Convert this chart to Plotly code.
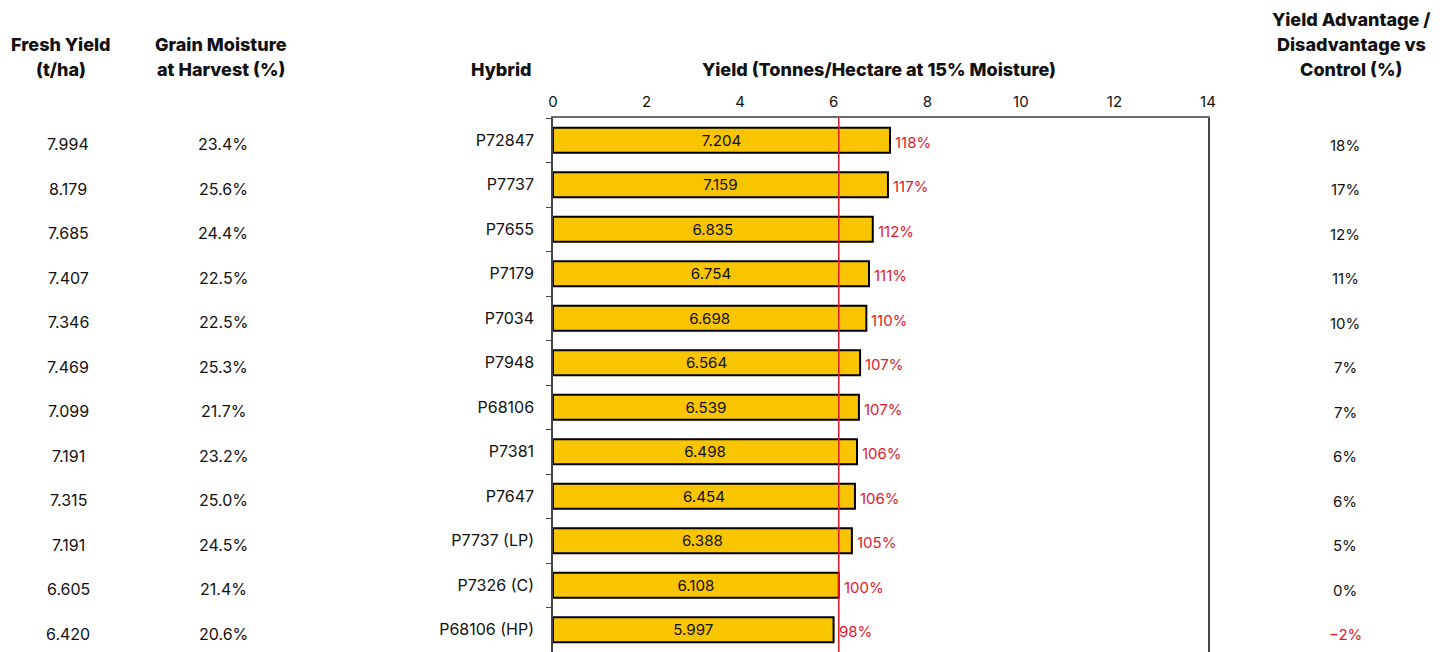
import plotly.graph_objects as go

hybrids = ["P72847", "P7737", "P7655", "P7179", "P7034", "P7948", "P68106",
           "P7381", "P7647", "P7737 (LP)", "P7326 (C)", "P68106 (HP)"]
yield_15 = [7.204, 7.159, 6.835, 6.754, 6.698, 6.564, 6.539, 6.498, 6.454, 6.388, 6.108, 5.997]
pct_of_control = ["118%", "117%", "112%", "111%", "110%", "107%", "107%", "106%", "106%", "105%", "100%", "98%"]
fresh_yield = ["7.994", "8.179", "7.685", "7.407", "7.346", "7.469", "7.099", "7.191", "7.315", "7.191", "6.605", "6.420"]
moisture = ["23.4%", "25.6%", "24.4%", "22.5%", "22.5%", "25.3%", "21.7%", "23.2%", "25.0%", "24.5%", "21.4%", "20.6%"]
advantage = ["18%", "17%", "12%", "11%", "10%", "7%", "7%", "6%", "6%", "5%", "0%", "−2%"]
control_name = "P7326 (C)"
control_value = yield_15[hybrids.index(control_name)]

OFF = 8  # page body margin
W, H = 1453 - OFF, 652
L, R, T, B = 553, 1208, 118, 652
FONT = "Inter"
RED = "#E3192B"
BAR = "#F9C400"
INK = "#111111"


def px(xp):
    return (xp - L) / (R - L)


def py(yp):
    return (B - yp) / (B - T)


fig = go.Figure()
fig.add_trace(go.Bar(
    y=hybrids, x=yield_15, orientation="h",
    marker=dict(color=BAR, line=dict(color="#000000", width=2)),
    text=[f"{v:.3f}" for v in yield_15], textposition="inside",
    insidetextanchor="middle", textfont=dict(family=FONT, size=16, color=INK),
    hoverinfo="skip", cliponaxis=False,
))

fig.add_shape(type="line", xref="x", yref="paper", x0=control_value, x1=control_value,
              y0=0, y1=1, line=dict(color=RED, width=1.5))

ann = []
for i, h in enumerate(hybrids):
    ann.append(dict(xref="x", yref="y", x=yield_15[i], y=h, text=pct_of_control[i], showarrow=False,
                    xanchor="left", xshift=3, yshift=-2, font=dict(family=FONT, size=15, color=RED)))
    ann.append(dict(xref="paper", yref="y", x=px(68), y=h, text=fresh_yield[i], showarrow=False,
                    xanchor="center", yshift=-4, font=dict(family=FONT, size=16, color=INK)))
    ann.append(dict(xref="paper", yref="y", x=px(223), y=h, text=moisture[i], showarrow=False,
                    xanchor="center", yshift=-4, font=dict(family=FONT, size=16, color=INK)))
    col = RED if advantage[i].startswith("−") else INK
    ann.append(dict(xref="paper", yref="y", x=px(1345), y=h, text=advantage[i], showarrow=False,
                    xanchor="center", yshift=-5, font=dict(family=FONT, size=15, color=col)))

hdr_font = dict(family=FONT, size=18, color=INK, weight=800)


def hdr(text, xp, yp, anchor="center"):
    ann.append(dict(xref="paper", yref="paper", x=px(xp), y=py(yp), text=text,
                    showarrow=False, xanchor=anchor, yanchor="middle", font=hdr_font))


hdr("Fresh Yield", 61, 44)
hdr("(t/ha)", 61, 69)
hdr("Grain Moisture", 221, 44)
hdr("at Harvest (%)", 221, 69)
hdr("Hybrid", 534, 69, "right")
hdr("Yield (Tonnes/Hectare at 15% Moisture)", 879, 69)
hdr("Yield Advantage /", 1351, 19)
hdr("Disadvantage vs", 1351, 44)
hdr("Control (%)", 1351, 69)

fig.update_layout(
    width=W, height=H,
    margin=dict(l=L - OFF, r=1453 - R, t=T - OFF, b=H - (B - OFF), pad=0),
    plot_bgcolor="white", paper_bgcolor="white",
    showlegend=False, bargap=0.44,
    annotations=ann,
    xaxis=dict(side="top", range=[0, 14], dtick=2, showgrid=False, zeroline=False,
               showline=True, linecolor="#6b6b6b", linewidth=1.5,
               ticks="", tickfont=dict(family=FONT, size=15, color=INK),
               ticklabelstandoff=3, fixedrange=True),
    yaxis=dict(autorange="reversed", showgrid=False, showline=True, linecolor="#444444",
               linewidth=1.5, mirror=True, ticks="outside", ticklen=5, tickcolor="#444444",
               tickson="boundaries", tickfont=dict(family=FONT, size=16, color=INK),
               ticklabelstandoff=14, fixedrange=True),
)

fig.write_html("out.html")
